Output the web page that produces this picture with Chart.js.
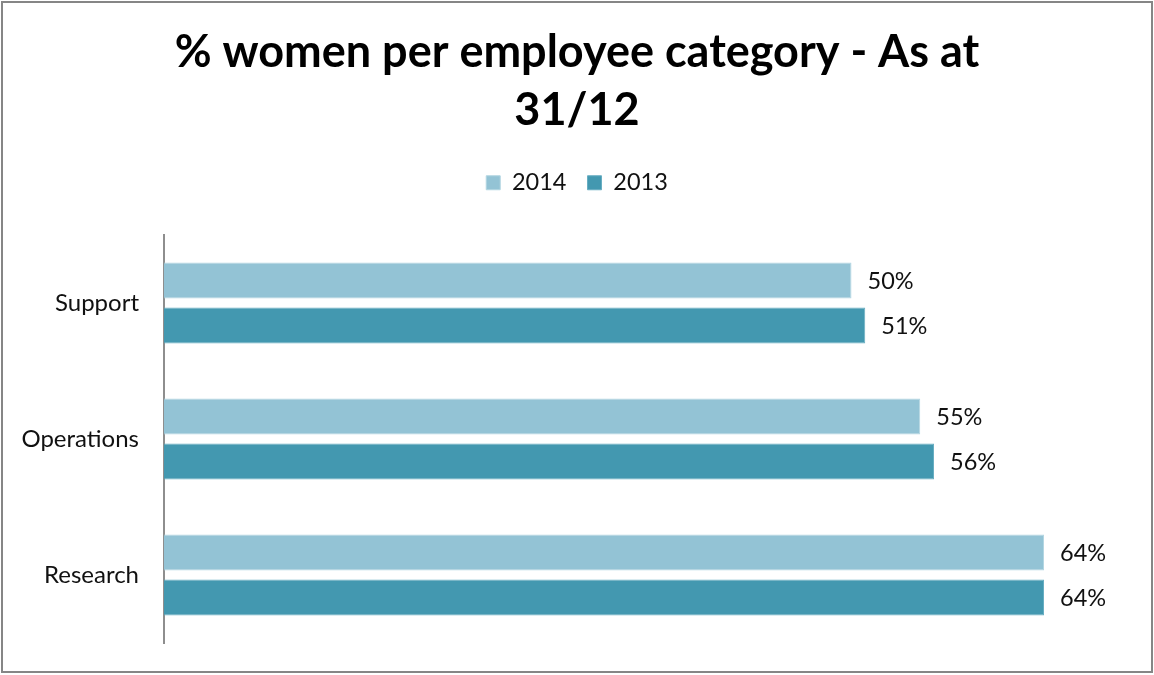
<!DOCTYPE html>
<html>
<head>
<meta charset="utf-8">
<script src="https://cdn.jsdelivr.net/npm/chart.js@4/dist/chart.umd.min.js"></script>
<style>
  html, body { margin: 0; padding: 0; background: #fff; }
  #wrap { width: 1154px; height: 675px; position: relative; }
</style>
</head>
<body>
<div id="wrap"><canvas id="c" width="1154" height="675"></canvas></div>
<script>
// Employee categories (top to bottom)
const categories = ['Support', 'Operations', 'Research'];
// Share of women, in percent
const values2014 = [50, 55, 64];
const values2013 = [51, 56, 64];
const seriesLabels = ['2014', '2013'];
const titleLines = ['% women per employee category - As at', '31/12'];

const FONT = 'Lato, "Open Sans", sans-serif';

// Percent labels to the right of each bar
const barValueLabels = {
  id: 'barValueLabels',
  afterDatasetsDraw(chart) {
    const ctx = chart.ctx;
    ctx.save();
    ctx.font = '23.5px ' + FONT;
    ctx.fillStyle = '#111';
    ctx.textAlign = 'left';
    ctx.textBaseline = 'middle';
    chart.data.datasets.forEach((ds, di) => {
      chart.getDatasetMeta(di).data.forEach((bar, i) => {
        ctx.fillText(ds.data[i] + '%', bar.x + 16, bar.y + 1);
      });
    });
    ctx.restore();
  }
};

// Grey frame around the whole chart
const outerFrame = {
  id: 'outerFrame',
  afterDraw(chart) {
    const ctx = chart.ctx;
    ctx.save();
    ctx.strokeStyle = '#868686';
    ctx.lineWidth = 2;
    ctx.strokeRect(2, 2, chart.width - 4, chart.height - 5);
    ctx.restore();
  }
};

new Chart(document.getElementById('c'), {
  type: 'bar',
  data: {
    labels: categories,
    datasets: [
      {
        label: seriesLabels[0],
        data: values2014,
        backgroundColor: '#93C3D5',
        borderColor: '#B3D6E2',
        borderWidth: 1,
        categoryPercentage: 0.662,
        barPercentage: 0.8
      },
      {
        label: seriesLabels[1],
        data: values2013,
        backgroundColor: '#4398B0',
        borderColor: '#68AEC2',
        borderWidth: 1,
        categoryPercentage: 0.662,
        barPercentage: 0.8
      }
    ]
  },
  options: {
    indexAxis: 'y',
    responsive: false,
    animation: false,
    layout: { padding: { left: 0, right: 0, top: 0, bottom: 32 } },
    scales: {
      // value axis: hidden, kept at the top as spacing below the legend
      x: {
        position: 'top',
        min: 0,
        max: 72,
        grid: { display: false, drawTicks: false },
        border: { display: false },
        ticks: { display: false },
        afterFit(scale) { scale.height = 30.5; }
      },
      y: {
        grid: { display: false, drawTicks: false },
        border: { display: true, color: '#8E8E8E', width: 2 },
        ticks: {
          color: '#111',
          font: { family: FONT, size: 24 },
          padding: 25
        },
        afterFit(scale) {
          scale.width = 164;
          scale.paddingTop = 0;
          scale.paddingBottom = 0;
        }
      }
    },
    plugins: {
      title: {
        display: true,
        text: titleLines,
        color: '#000',
        font: { family: FONT, size: 45, weight: 'bold', lineHeight: 1.289 },
        padding: { top: 23, bottom: 11 }
      },
      legend: {
        display: true,
        position: 'top',
        labels: {
          boxWidth: 14,
          boxHeight: 14,
          padding: 21,
          color: '#111',
          font: { family: FONT, size: 23.5 }
        }
      },
      tooltip: { enabled: false }
    }
  },
  plugins: [barValueLabels, outerFrame]
});
</script>
</body>
</html>
